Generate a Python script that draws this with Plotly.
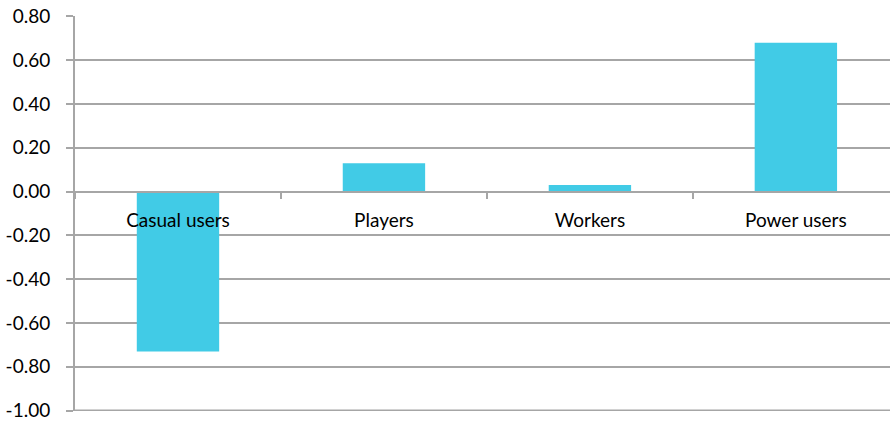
import plotly.graph_objects as go

categories = ["Casual users", "Players", "Workers", "Power users"]
values = [-0.73, 0.13, 0.03, 0.68]
y_ticks = [0.8, 0.6, 0.4, 0.2, 0.0, -0.2, -0.4, -0.6, -0.8, -1.0]
y_labels = ["0.80", "0.60", "0.40", "0.20", "0.00", "-0.20", "-0.40", "-0.60", "-0.80", "-1.00"]

GRID = "#a6a6a6"
ymin, ymax = -1.0, 0.8
pad = 0.002

fig = go.Figure(go.Bar(x=categories, y=values, marker=dict(color="#41CBE6", line=dict(width=0)),
                       width=0.4))

# bottom gridline (plotly drops the gridline at the range edge)
fig.add_shape(type="line", xref="paper", yref="y", x0=0, x1=1, y0=min(y_ticks), y1=min(y_ticks),
              line=dict(color=GRID, width=2), layer="below")

fig.update_layout(
    width=890, height=421,
    margin=dict(l=75, r=0, t=16, b=8),
    paper_bgcolor="white", plot_bgcolor="white",
    showlegend=False,
    font=dict(family="Lato", size=19, color="#000000"),
    xaxis=dict(
        type="category",
        range=[-0.5, 3.457],
        anchor="free",
        position=(0 - (ymin - pad)) / ((ymax + pad) - (ymin - pad)),
        showline=True, linecolor=GRID, linewidth=2,
        ticks="outside", tickson="boundaries", ticklen=6, tickcolor=GRID, tickwidth=2,
        showgrid=False,
        ticklabelstandoff=12,
        tickfont=dict(size=19),
    ),
    yaxis=dict(
        range=[ymin - pad, ymax + pad],
        tickvals=y_ticks,
        ticktext=y_labels,
        showgrid=True, gridcolor=GRID, gridwidth=2,
        zeroline=False,
        showline=True, linecolor=GRID, linewidth=2,
        ticks="outside", ticklen=7, tickcolor=GRID, tickwidth=2,
        ticklabelstandoff=12,
        ticklabeloverflow="allow",
        tickfont=dict(size=19),
    ),
)

fig.write_html("out.html")
